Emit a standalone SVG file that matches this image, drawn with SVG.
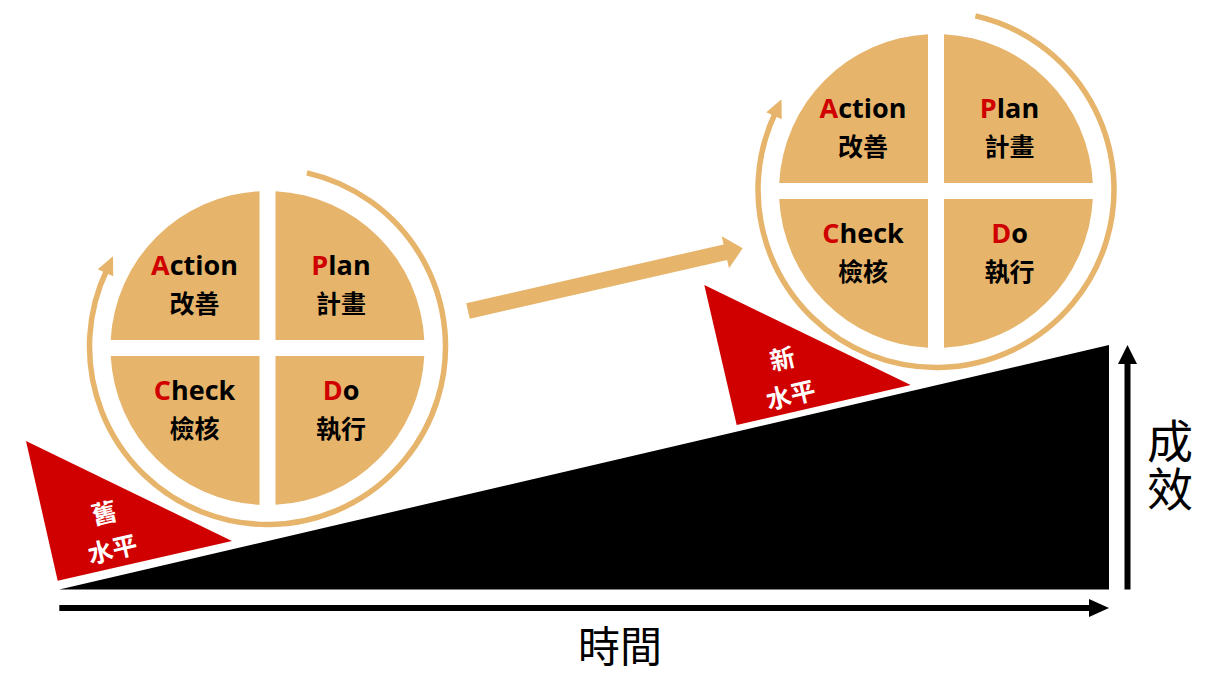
<svg xmlns="http://www.w3.org/2000/svg" width="1213" height="682" viewBox="0 0 1213 682">
<style>
.q{fill:#E6B46A}
.ring{fill:none;stroke:#E6B46A;stroke-width:5.5}
.head{fill:#E6B46A}
.lat{font-family:"Open Sans","Noto Sans CJK TC",sans-serif;font-weight:700;font-size:27px;fill:#000;text-anchor:middle}
.red{fill:#D00000}
.cjk{font-family:"Noto Sans CJK TC",sans-serif;font-weight:700;font-size:25px;fill:#000;text-anchor:middle}
.lvl{font-family:"Noto Sans CJK TC",sans-serif;font-weight:700;font-size:25px;fill:#fff;text-anchor:middle}
.axl{font-family:"Noto Sans CJK TC",sans-serif;font-weight:400;fill:#000;text-anchor:middle}
</style>
<rect width="1213" height="682" fill="#fff"/>

<g id="slope">
<polygon points="59.3,589.5 1109,345 1109,589.5" fill="#000"/>
</g>

<g id="level-old">
<polygon points="26,441 57.7,580.7 232,541" class="red"/>
<g transform="translate(108.2,531) rotate(-13)">
<text class="lvl" x="0" y="-9">舊</text>
<text class="lvl" x="0" y="28">水平</text>
</g>
</g>

<g id="level-new">
<polygon points="704.3,285 736.7,425 910.7,385" class="red"/>
<g transform="translate(786.5,376.8) rotate(-13)">
<text class="lvl" x="0" y="-9">新</text>
<text class="lvl" x="0" y="28">水平</text>
</g>
</g>

<g id="pdca-old" transform="translate(267.5,348)">
<path class="q" d="M-8,-8 V-156.8 A157,157 0 0 0 -156.8,-8 Z"/>
<path class="q" d="M8,-8 V-156.8 A157,157 0 0 1 156.8,-8 Z"/>
<path class="q" d="M-8,8 V156.8 A157,157 0 0 1 -156.8,8 Z"/>
<path class="q" d="M8,8 V156.8 A157,157 0 0 0 156.8,8 Z"/>
<path class="ring" d="M39.4,-175.1 A178,178 0 1 1 -160,-79.5"/>
<polygon class="head" points="-154.5,-91.7 -169.7,-78.8 -154.3,-71.8"/>
<text class="lat" x="-73" y="-73"><tspan class="red">A</tspan>ction</text>
<text class="cjk" x="-73" y="-35">改善</text>
<text class="lat" x="73.5" y="-73"><tspan class="red">P</tspan>lan</text>
<text class="cjk" x="73.5" y="-35">計畫</text>
<text class="lat" x="-73" y="52"><tspan class="red">C</tspan>heck</text>
<text class="cjk" x="-73" y="90">檢核</text>
<text class="lat" x="73.5" y="52"><tspan class="red">D</tspan>o</text>
<text class="cjk" x="73.5" y="90">執行</text>
</g>

<g id="pdca-new" transform="translate(936,191)">
<path class="q" d="M-8,-8 V-156.8 A157,157 0 0 0 -156.8,-8 Z"/>
<path class="q" d="M8,-8 V-156.8 A157,157 0 0 1 156.8,-8 Z"/>
<path class="q" d="M-8,8 V156.8 A157,157 0 0 1 -156.8,8 Z"/>
<path class="q" d="M8,8 V156.8 A157,157 0 0 0 156.8,8 Z"/>
<path class="ring" d="M39.4,-175.1 A178,178 0 1 1 -160,-79.5"/>
<polygon class="head" points="-154.5,-91.7 -169.7,-78.8 -154.3,-71.8"/>
<text class="lat" x="-73" y="-73"><tspan class="red">A</tspan>ction</text>
<text class="cjk" x="-73" y="-35">改善</text>
<text class="lat" x="73.5" y="-73"><tspan class="red">P</tspan>lan</text>
<text class="cjk" x="73.5" y="-35">計畫</text>
<text class="lat" x="-73" y="52"><tspan class="red">C</tspan>heck</text>
<text class="cjk" x="-73" y="90">檢核</text>
<text class="lat" x="73.5" y="52"><tspan class="red">D</tspan>o</text>
<text class="cjk" x="73.5" y="90">執行</text>
</g>

<g id="connectors">
<path transform="translate(468,311) rotate(-12.86)" fill="#E6B46A" d="M0,-8 H264 V-16.4 L281.8,0 L264,16.4 V8 H0 Z"/>
<line x1="59.3" y1="608" x2="1091" y2="608" stroke="#000" stroke-width="6"/>
<polygon points="1089,599 1109,608 1089,617" fill="#000"/>
<line x1="1127.5" y1="589.5" x2="1127.5" y2="362" stroke="#000" stroke-width="6"/>
<polygon points="1118,364 1127.5,345 1137,364" fill="#000"/>
</g>

<g id="axis-labels">
<text class="axl" x="620" y="662" font-size="42">時間</text>
<text class="axl" x="1170" y="418" font-size="46" letter-spacing="2" style="writing-mode:vertical-rl;text-anchor:start">成效</text>
</g>
</svg>
